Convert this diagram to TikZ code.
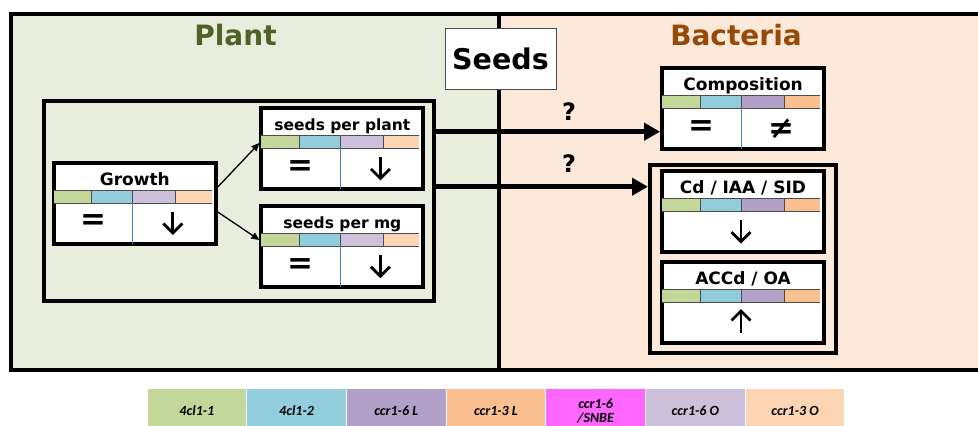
\documentclass[tikz,border=0pt]{standalone}
\usepackage{fontspec}
\setmainfont{DejaVu Sans}
\newfontfamily\legendfont{Carlito}
\usetikzlibrary{arrows.meta,calc}

\definecolor{plantbg}{HTML}{E9EDDD}
\definecolor{bactbg}{HTML}{FDE9DA}
\definecolor{planttitle}{HTML}{4F6228}
\definecolor{bacttitle}{HTML}{984807}
\definecolor{cA}{HTML}{C4D79B}
\definecolor{cB}{HTML}{92CDDC}
\definecolor{cC}{HTML}{B1A0C7}
\definecolor{cD}{HTML}{FABF8F}
\definecolor{cE}{HTML}{FF66FF}
\definecolor{cF}{HTML}{CCC0DA}
\definecolor{cG}{HTML}{FCD5B4}
\definecolor{divblue}{HTML}{4F81BD}

\tikzset{
  panel/.style={draw=black, line width=4pt, inner sep=0pt},
  groupbox/.style={draw=black, line width=4pt, inner sep=0pt},
  resbox/.style={draw=black, line width=4pt, fill=white, minimum width=162pt, minimum height=81pt, inner sep=0pt},
  stripline/.style={draw=black!70, line width=0.7pt},
  boxtitle/.style={font=\bfseries\fontsize{17}{19}\selectfont, anchor=base, inner sep=0pt},
  smalltitle/.style={font=\bfseries\fontsize{15.5}{17}\selectfont},
  sym/.style={font=\bfseries\fontsize{31}{33}\selectfont, inner sep=0pt},
  trendline/.style={line width=2.8pt, miter limit=4},
  paneltitle/.style={font=\bfseries\fontsize{28}{30}\selectfont, anchor=base, inner sep=0pt},
  qmark/.style={font=\bfseries\fontsize{24}{26}\selectfont, inner sep=0pt},
  bigarrow/.style={line width=5pt, -{Triangle[length=16pt,width=17pt]}},
  thinarrow/.style={line width=1.3pt, -{Triangle[length=8pt,width=7pt]}},
  legcell/.style={draw=white, line width=1pt, minimum width=99.7pt, minimum height=46pt, inner sep=0pt,
    font=\legendfont\bfseries\itshape\fontsize{14}{14.5}\selectfont, align=center},
}

% result box: name, centre, title, title style, third and fourth strip colours
\newcommand{\resbox}[6]{%
  \node[resbox] (#1) at (#2) {};
  \coordinate (#1-s) at ($(#1.north west)+(0,29.5)$);
  \fill[cA] ($(#1-s)+(2,0)$) rectangle ($(#1-s)+(40,13)$);
  \fill[cB] ($(#1-s)+(40,0)$) rectangle ($(#1-s)+(81,13)$);
  \fill[#5] ($(#1-s)+(81,0)$) rectangle ($(#1-s)+(124,13)$);
  \fill[#6] ($(#1-s)+(124,0)$) rectangle ($(#1-s)+(160,13)$);
  \draw[stripline] ($(#1-s)+(2,0)$) -- ($(#1-s)+(160,0)$)
                   ($(#1-s)+(2,13)$) -- ($(#1-s)+(160,13)$);
  \foreach \sx in {40,81,124} \draw[stripline] ($(#1-s)+(\sx,0)$) -- ($(#1-s)+(\sx,13)$);
  \node[boxtitle,#4] (#1-t) at ($(#1.north)+(0,24.5)$) {#3};
}
% thin vertical divider in the lower part of a box
\newcommand{\halfline}[1]{%
  \draw[divblue, line width=0.8pt] ($(#1-s)+(81,13)$) -- ($(#1.south west)+(81,-2)$);
}
% trend arrows (decrease / increase) centred on a named coordinate
\newcommand{\downtrend}[1]{%
  \draw[trendline] ($(#1)+(0,-11)$) -- ($(#1)+(0,10.5)$);
  \draw[trendline] ($(#1)+(-9.5,1)$) -- ($(#1)+(0,10.5)$) -- ($(#1)+(9.5,1)$);
}
\newcommand{\uptrend}[1]{%
  \draw[trendline] ($(#1)+(0,11)$) -- ($(#1)+(0,-10.5)$);
  \draw[trendline] ($(#1)+(-9.5,-1)$) -- ($(#1)+(0,-10.5)$) -- ($(#1)+(9.5,-1)$);
}

\begin{document}
\begin{tikzpicture}[x=1pt, y=-1pt]
\useasboundingbox (0,0) rectangle (978,426);

% panels
\node[panel, fill=plantbg, minimum width=487.5pt, minimum height=355.5pt] (plant) at (254.75,191.75) {};
\node[panel, fill=bactbg, minimum width=491.5pt, minimum height=355.5pt] (bact) at (744.25,191.75) {};
\node[paneltitle, text=planttitle] (planttitle) at (235.5,45) {Plant};
\node[paneltitle, text=bacttitle] (bacttitle) at (736,45) {Bacteria};

\node[draw=black!70, line width=0.8pt, fill=white, minimum width=111pt, minimum height=61pt, inner sep=0pt,
      font=\bfseries\fontsize{28.5}{30}\selectfont] (seeds) at (500.5,58.5) {Seeds};

% plant side
\node[groupbox, minimum width=389.5pt, minimum height=199.5pt] (plantgroup) at (238.75,200.75) {};

\resbox{growth}{134.8,203}{Growth}{}{cF}{cG}
\halfline{growth}
\resbox{sppl}{342.4,148.4}{seeds per plant}{smalltitle}{cF}{cG}
\halfline{sppl}
\resbox{spmg}{342.4,246.2}{seeds per mg}{smalltitle}{cF}{cG}
\halfline{spmg}

\foreach \b in {growth, sppl, spmg} {
  \node[sym] (\b-l) at ($(\b-s)+(41.5,32.5)$) {=};
  \coordinate (\b-r) at ($(\b-s)+(121,32.5)$);
  \downtrend{\b-r}
}

% bacteria side
\node[groupbox, minimum width=185.5pt, minimum height=188pt] (bactgroup) at (742.75,259) {};

\resbox{comp}{743.1,108.4}{Composition}{}{cC}{cD}
\halfline{comp}
\node[sym] (comp-l) at ($(comp-s)+(41.5,32.5)$) {=};
\node[sym] (comp-r) at ($(comp-s)+(121,33)$) {≠};

\resbox{cd}{743,211.7}{Cd / IAA / SID}{}{cC}{cD}
\coordinate (cd-c) at ($(cd-s)+(81,32.5)$);
\downtrend{cd-c}
\resbox{accd}{743,302}{ACCd / OA}{}{cC}{cD}
\coordinate (accd-c) at ($(accd-s)+(81,32.5)$);
\uptrend{accd-c}

% connectors
\draw[thinarrow] (growth.east |- 0,187) -- (sppl.west |- 0,143);
\draw[thinarrow] (growth.east |- 0,212) -- (spmg.west |- 0,240);
\draw[bigarrow] (plantgroup.east |- 0,131.7) -- (comp.west |- 0,131.7);
\draw[bigarrow] (plantgroup.east |- 0,186.7) -- (bactgroup.west |- 0,186.7);
\node[qmark] (q1) at (569,112) {?};
\node[qmark] (q2) at (569,164) {?};

% legend
\foreach \i/\c/\t in {1/cA/4cl1-1, 2/cB/4cl1-2, 3/cC/ccr1-6 L, 4/cD/ccr1-3 L,
                      5/cE/{ccr1-6\\/SNBE}, 6/cF/ccr1-6 O, 7/cG/ccr1-3 O} {
  \node[legcell, fill=\c] (leg\i) at ({147+99.7*(\i-0.5)},411) {\t};
}
\end{tikzpicture}
\end{document}
